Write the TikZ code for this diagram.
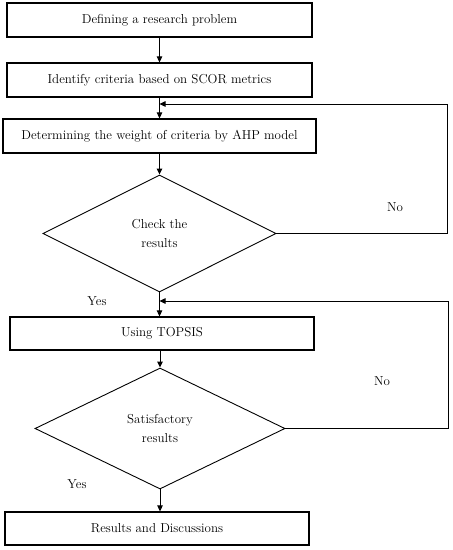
\documentclass[tikz,border=0pt]{standalone}
\usetikzlibrary{shapes.geometric,arrows.meta,calc}
\begin{document}
\begin{tikzpicture}[x=1bp, y=-1bp, every node/.style={font=\fontsize{13}{15}\selectfont},
    stepbox/.style={draw, line width=1.2bp, rectangle, minimum height=34bp, inner sep=0pt},
    check/.style={draw, line width=0.9bp, diamond, inner sep=0pt, align=center},
    arr/.style={line width=1bp, -{Triangle[length=6bp, width=5.5bp]}},
    back/.style={line width=0.8bp, -{Triangle[length=6bp, width=5.5bp]}}]
    \useasboundingbox (0,0) rectangle (453,550);

    % Process boxes
    \node[stepbox, minimum width=305bp] (problem) at (159.5, 20) {Defining a research problem};
    \node[stepbox, minimum width=305bp] (criteria) at (159.5, 80) {Identify criteria based on SCOR metrics};
    \node[stepbox, minimum width=313bp] (ahp) at (159.5, 136) {Determining the weight of criteria by AHP model};
    \node[stepbox, minimum width=304bp, minimum height=33bp] (topsis) at (162, 333.5) {Using TOPSIS};
    \node[stepbox, minimum width=304bp, minimum height=33bp] (final) at (157, 528.5) {Results and Discussions};

    % Decisions
    \node[check, minimum width=233bp, minimum height=117bp] (checkres) at (159.5, 233.5) {Check the\\[4pt] results};
    \node[check, minimum width=250bp, minimum height=121bp] (satisf) at (160, 428.5) {Satisfactory\\[4pt] results};

    % Main flow
    \draw[arr] (problem.south) -- (criteria.north);
    \draw[arr] (criteria.south) -- (ahp.north);
    \draw[arr] (ahp.south) -- (checkres.north);
    \draw[arr] (checkres.south) -- (checkres.south |- topsis.north);
    \draw[arr] (topsis.south -| satisf.north) -- (satisf.north);
    \draw[arr] (satisf.south) -- (satisf.south |- final.north);

    % Feedback loops
    \coordinate (loopa) at (447, 104);
    \coordinate (loopb) at (448, 301);
    \draw[back] (checkres.east) -- (checkres.east -| loopa) -- (loopa) -- (loopa -| checkres.north);
    \draw[back] (satisf.east) -- (satisf.east -| loopb) -- (loopb) -- (loopb -| checkres.south);

    % Branch labels
    \node (noa) at (395, 207) {No};
    \node (nob) at (382, 381) {No};
    \node (yesa) at (97, 301) {Yes};
    \node (yesb) at (77, 484) {Yes};
\end{tikzpicture}
\end{document}
